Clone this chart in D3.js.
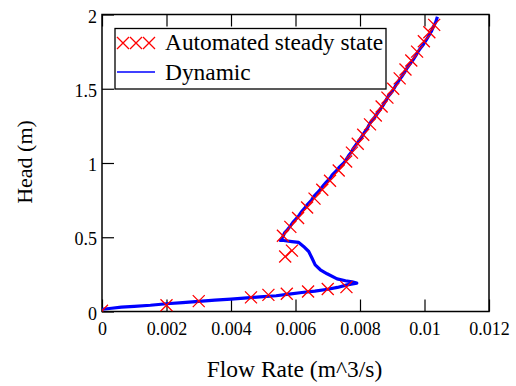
<!DOCTYPE html>
<html>
<head>
<meta charset="utf-8">
<script src="https://cdn.jsdelivr.net/npm/d3@7"></script>
<style>
  body { margin: 0; background: #fff; }
  svg { display: block; }
  svg text { font-family: "Liberation Serif", "Times New Roman", serif !important; fill: #000; }
</style>
</head>
<body>
<svg id="chart"></svg>
<script>
// Automated steady state (red crosses)
const steadyFlow = [0, 0.002, 0.003, 0.00462, 0.00516, 0.00573, 0.00639, 0.0070, 0.00758,
    0.00568, 0.00589,
    0.00561, 0.00584, 0.00608, 0.00636, 0.00659, 0.00683, 0.00707, 0.00734, 0.00757,
    0.00775, 0.00793, 0.00810, 0.00831, 0.00849, 0.00867, 0.00885, 0.00903, 0.00923,
    0.00941, 0.00959, 0.00977, 0.00998, 0.01015, 0.01030]
const steadyHead = [0.005, 0.042, 0.07, 0.095, 0.112, 0.119, 0.135, 0.151, 0.164,
    0.37, 0.41,
    0.51, 0.57, 0.63, 0.70, 0.76, 0.82, 0.88, 0.95, 1.01,
    1.07, 1.13, 1.19, 1.26, 1.32, 1.38, 1.44, 1.50, 1.57,
    1.63, 1.69, 1.75, 1.82, 1.88, 1.93]

// Dynamic (blue line)
const dynamicFlow = [0, 0.0003, 0.0006, 0.001, 0.0015, 0.002, 0.0025, 0.003, 0.0035, 0.004,
    0.0045, 0.0049, 0.0054, 0.0058, 0.0062, 0.0066, 0.0070, 0.0073, 0.0076, 0.0079,
    0.00775, 0.00755, 0.00729, 0.00698, 0.00677, 0.00661, 0.00651, 0.00641, 0.00625, 0.0061,
    0.00589, 0.00563, 0.00553,
    0.00560, 0.00566, 0.00575, 0.00582, 0.00592, 0.00600, 0.00612, 0.00618, 0.00630, 0.00637,
    0.00650, 0.00655, 0.00668, 0.00676, 0.00687, 0.00695, 0.00708, 0.00714, 0.00728, 0.00735,
    0.00750, 0.00756, 0.00765, 0.00772, 0.00780, 0.00790, 0.00797, 0.00806, 0.00812, 0.00822,
    0.00829, 0.00838, 0.00846, 0.00856, 0.00862, 0.00872, 0.00880, 0.00888, 0.00896, 0.00905,
    0.00913, 0.00922, 0.00929, 0.00938, 0.00946, 0.00956, 0.00963, 0.00972, 0.00980, 0.00990,
    0.00997, 0.01006, 0.01014, 0.01022, 0.01028, 0.01035, 0.01040]
const dynamicHead = [0.015, 0.022, 0.03, 0.035, 0.042, 0.052, 0.06, 0.068, 0.076, 0.083,
    0.092, 0.098, 0.106, 0.117, 0.128, 0.137, 0.150, 0.162, 0.179, 0.191,
    0.200, 0.207, 0.220, 0.254, 0.281, 0.314, 0.36, 0.404, 0.438, 0.465,
    0.471, 0.478, 0.478,
    0.50, 0.53, 0.55, 0.57, 0.60, 0.62, 0.65, 0.67, 0.70, 0.72,
    0.75, 0.77, 0.80, 0.82, 0.85, 0.87, 0.90, 0.92, 0.95, 0.97,
    1.00, 1.02, 1.05, 1.07, 1.10, 1.13, 1.15, 1.18, 1.20, 1.23,
    1.26, 1.29, 1.31, 1.34, 1.36, 1.39, 1.42, 1.45, 1.47, 1.50,
    1.53, 1.56, 1.58, 1.61, 1.64, 1.67, 1.69, 1.72, 1.75, 1.78,
    1.80, 1.83, 1.86, 1.89, 1.92, 1.95, 1.985]

const xTicks = [0, 0.002, 0.004, 0.006, 0.008, 0.01, 0.012]
const yTicks = [0, 0.5, 1, 1.5, 2]

const width = 516, height = 386
const plotLeft = 102, plotRight = 489, plotTop = 14.5, plotBottom = 311.5

const svg = d3.select("#chart")
    .attr("width", width)
    .attr("height", height)

const x = d3.scaleLinear().domain([0, 0.012]).range([plotLeft, plotRight])
const y = d3.scaleLinear().domain([0, 2]).range([plotBottom, plotTop])

// clip for the data
svg.append("clipPath").attr("id", "plot")
    .append("rect")
    .attr("x", plotLeft).attr("y", plotTop)
    .attr("width", plotRight - plotLeft).attr("height", plotBottom - plotTop)

// axes, ticks pointing inward
const xAxis = svg.append("g")
    .attr("transform", `translate(0,${plotBottom})`)
    .call(d3.axisBottom(x).tickValues(xTicks).tickFormat(d => d3.format("~g")(d))
        .tickSizeInner(-12).tickSizeOuter(0).tickPadding(11))
const xTop = svg.append("g")
    .attr("transform", `translate(0,${plotTop})`)
    .call(d3.axisTop(x).tickValues(xTicks).tickFormat("")
        .tickSizeInner(-12).tickSizeOuter(0))
const yAxis = svg.append("g")
    .attr("transform", `translate(${plotLeft},0)`)
    .call(d3.axisLeft(y).tickValues(yTicks).tickFormat(d => d3.format("~g")(d))
        .tickSizeInner(-12).tickSizeOuter(0).tickPadding(5))

svg.selectAll(".domain").remove()
svg.selectAll(".tick line").attr("stroke", "#000").attr("stroke-width", 1.2)
svg.selectAll(".tick text").attr("font-size", 18)
yAxis.selectAll(".tick text").attr("dy", "0.42em")

// frame
svg.append("rect")
    .attr("x", plotLeft).attr("y", plotTop)
    .attr("width", plotRight - plotLeft).attr("height", plotBottom - plotTop)
    .attr("fill", "none")
    .attr("stroke", "#000")
    .attr("stroke-width", 1.5)

const plot = svg.append("g").attr("clip-path", "url(#plot)")

// dynamic line
const dynamic = dynamicFlow.map((f, i) => [f, dynamicHead[i]])
plot.append("path")
    .datum(dynamic)
    .attr("d", d3.line().x(d => x(d[0])).y(d => y(d[1])))
    .attr("fill", "none")
    .attr("stroke", "#0000ff")
    .attr("stroke-width", 3.2)
    .attr("stroke-linejoin", "round")

// steady state crosses
const cross = 6
const steady = steadyFlow.map((f, i) => [f, steadyHead[i]])
plot.selectAll(".steady")
    .data(steady)
    .enter()
    .append("path")
    .attr("class", "steady")
    .attr("d", d => {
        const cx = x(d[0]), cy = y(d[1])
        return `M${cx - cross},${cy - cross}L${cx + cross},${cy + cross}M${cx - cross},${cy + cross}L${cx + cross},${cy - cross}`
    })
    .attr("stroke", "#ff0000")
    .attr("stroke-width", 1.3)
    .attr("fill", "none")

// legend
const legend = svg.append("g")
legend.append("rect")
    .attr("x", 115).attr("y", 28.5)
    .attr("width", 271).attr("height", 60.5)
    .attr("fill", "#fff")
    .attr("stroke", "#000")
    .attr("stroke-width", 1.3)
;[123, 136, 149].forEach(cx => {
    legend.append("path")
        .attr("d", `M${cx - cross},${43 - cross}L${cx + cross},${43 + cross}M${cx - cross},${43 + cross}L${cx + cross},${43 - cross}`)
        .attr("stroke", "#ff0000")
        .attr("stroke-width", 1.3)
})
legend.append("line")
    .attr("x1", 117).attr("x2", 155)
    .attr("y1", 72).attr("y2", 72)
    .attr("stroke", "#0000ff")
    .attr("stroke-width", 1.3)
legend.append("text")
    .attr("x", 165).attr("y", 50)
    .attr("font-size", 23.4)
    .text("Automated steady state")
legend.append("text")
    .attr("x", 165).attr("y", 80)
    .attr("font-size", 23.4)
    .text("Dynamic")

// axis titles
svg.append("text")
    .attr("x", 294.5).attr("y", 377)
    .attr("text-anchor", "middle")
    .attr("font-size", 23.5)
    .text("Flow Rate (m^3/s)")
svg.append("text")
    .attr("transform", "translate(32,162) rotate(-90)")
    .attr("text-anchor", "middle")
    .attr("font-size", 22)
    .text("Head (m)")
</script>
</body>
</html>
